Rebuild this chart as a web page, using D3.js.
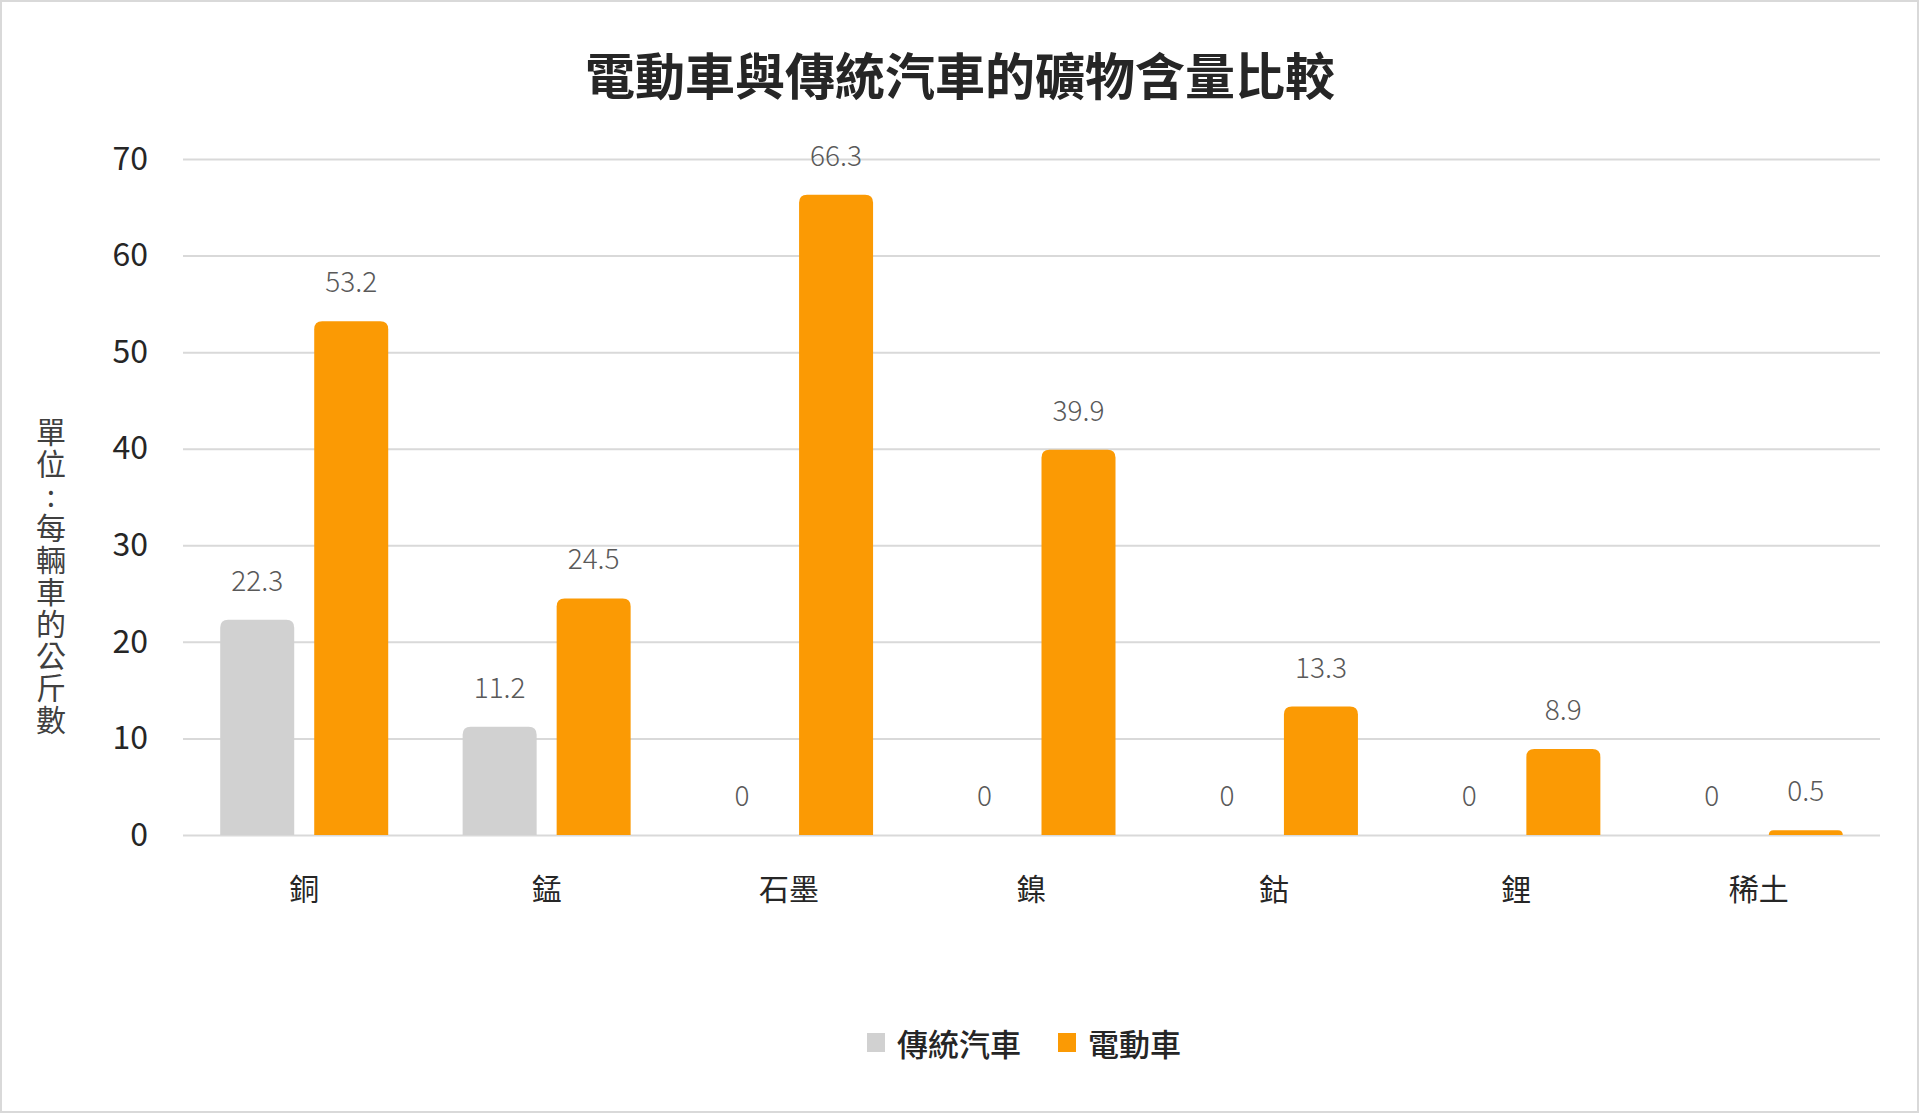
<!DOCTYPE html>
<html>
<head>
<meta charset="utf-8">
<script src="https://cdn.jsdelivr.net/npm/d3@7"></script>
<style>
  html, body { margin: 0; padding: 0; background: #ffffff; }
  svg { display: block; font-family: "Noto Sans CJK TC", "Noto Sans", sans-serif; }
</style>
</head>
<body>
<svg id="chart" width="1920" height="1113"></svg>
<script>
const titleText = '電動車與傳統汽車的礦物含量比較';
const yAxisLabel = '單位:每輛車的公斤數';
const categories = ['銅', '錳', '石墨', '鎳', '鈷', '鋰', '稀土'];
const seriesNames = ['傳統汽車', '電動車'];
const conventionalValues = [22.3, 11.2, 0, 0, 0, 0, 0];
const evValues = [53.2, 24.5, 66.3, 39.9, 13.3, 8.9, 0.5];
const yTicks = [0, 10, 20, 30, 40, 50, 60, 70];
const seriesColors = ['#d1d1d1', '#fb9a04'];

const svg = d3.select('#chart');
const W = 1920, H = 1113;
const plot = { left: 183, right: 1880, top: 159, bottom: 835 };

svg.append('rect').attr('x', 0).attr('y', 0).attr('width', W).attr('height', H).attr('fill', '#fff');
svg.append('rect').attr('x', 1).attr('y', 1).attr('width', W - 3).attr('height', H - 2)
  .attr('fill', 'none').attr('stroke', '#d9d9d9').attr('stroke-width', 2);

const y = d3.scaleLinear().domain([0, 70]).range([plot.bottom, plot.top]);
const x0 = d3.scaleBand().domain(categories).range([plot.left, plot.right])
  .paddingInner(0.307).paddingOuter(0.1535);
const x1 = d3.scaleBand().domain(seriesNames).range([0, x0.bandwidth()])
  .paddingInner(0.2128).paddingOuter(0);

// Title
svg.append('text').attr('x', 960).attr('y', 73)
  .attr('text-anchor', 'middle').attr('dominant-baseline', 'central')
  .attr('font-size', 50).attr('font-weight', 'bold').attr('fill', '#262626')
  .text(titleText);

// Y axis with gridlines
const yAxis = d3.axisLeft(y).tickValues(yTicks).tickSizeInner(-(plot.right - plot.left)).tickSizeOuter(0).tickPadding(35);
const gy = svg.append('g').attr('transform', `translate(${plot.left},0)`).call(yAxis);
gy.select('.domain').remove();
gy.selectAll('.tick line').attr('stroke', '#d9d9d9').attr('stroke-width', 2);
gy.selectAll('.tick text').attr('font-size', 32).attr('fill', '#262626')
  .attr('font-family', '"Noto Sans CJK TC", sans-serif');

// Y axis label (vertical writing)
svg.append('text')
  .attr('x', 51).attr('y', 417)
  .attr('font-size', 30).attr('fill', '#404040')
  .style('writing-mode', 'vertical-rl')
  .style('text-orientation', 'upright')
  .style('letter-spacing', '2px')
  .text(yAxisLabel);

// Bars
function topRounded(x, yTop, w, h, r) {
  r = Math.min(r, h, w / 2);
  if (h <= 0) return '';
  return `M${x},${yTop + h}V${yTop + r}Q${x},${yTop} ${x + r},${yTop}H${x + w - r}Q${x + w},${yTop} ${x + w},${yTop + r}V${yTop + h}Z`;
}

const rows = categories.map((c, i) => ({
  cat: c,
  vals: [
    { s: seriesNames[0], v: conventionalValues[i], color: seriesColors[0] },
    { s: seriesNames[1], v: evValues[i], color: seriesColors[1] }
  ]
}));

const groups = svg.append('g').selectAll('g').data(rows).enter().append('g')
  .attr('transform', d => `translate(${x0(d.cat)},0)`);

groups.selectAll('path').data(d => d.vals).enter().append('path')
  .attr('d', d => topRounded(x1(d.s), y(d.v), x1.bandwidth(), y(0) - y(d.v), 8))
  .attr('fill', d => d.color);

groups.selectAll('text.val').data(d => d.vals).enter().append('text')
  .attr('class', 'val')
  .attr('x', d => x1(d.s) + x1.bandwidth() / 2)
  .attr('y', d => y(d.v) - 29)
  .attr('text-anchor', 'middle')
  .attr('font-size', 28).attr('font-weight', 300).attr('fill', '#595959')
  .text(d => d.v);

// X category labels
svg.append('g').selectAll('text').data(categories).enter().append('text')
  .attr('x', d => x0(d) + x0.bandwidth() / 2)
  .attr('y', 887)
  .attr('text-anchor', 'middle').attr('dominant-baseline', 'central')
  .attr('font-size', 30).attr('fill', '#262626')
  .text(d => d);

// Legend
const legend = svg.append('g');
let lx = 867;
seriesNames.forEach((name, i) => {
  legend.append('rect').attr('x', lx).attr('y', 1033).attr('width', 18).attr('height', 19)
    .attr('fill', seriesColors[i]);
  const t = legend.append('text').attr('x', lx + 30).attr('y', 1042)
    .attr('dominant-baseline', 'central').attr('font-size', 31).attr('font-weight', 500)
    .attr('fill', '#262626').text(name);
  lx = lx + 30 + t.node().getComputedTextLength() + 37;
});
</script>
</body>
</html>
